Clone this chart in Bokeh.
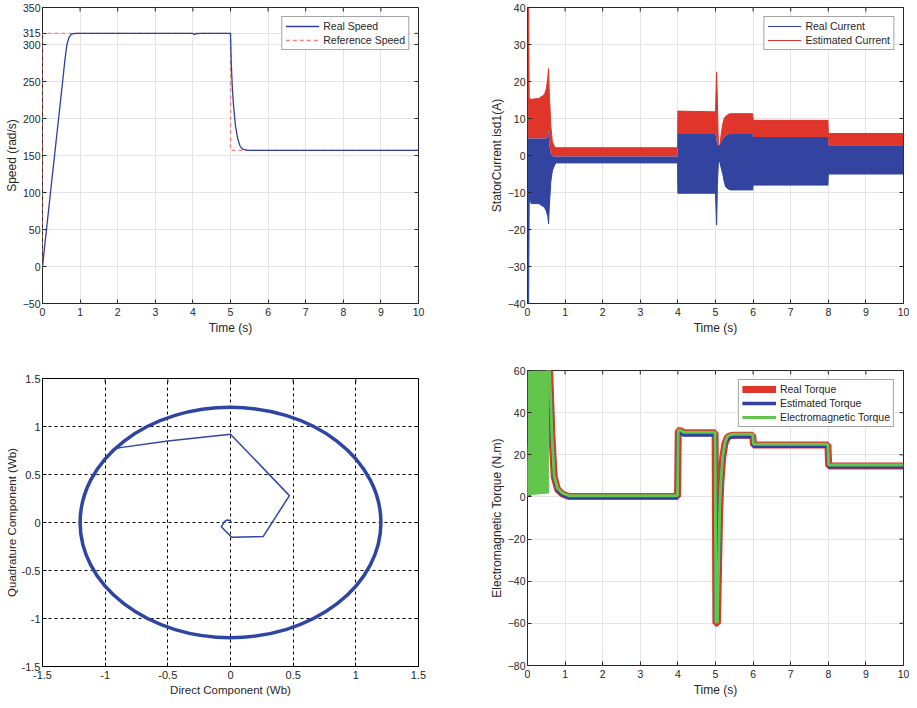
import math
from bokeh.plotting import figure
from bokeh.models import FixedTicker, Legend, LegendItem, CustomJSTickFormatter, Range1d
from bokeh.layouts import column, row
from bokeh.embed import file_html
from bokeh.resources import INLINE

# ---------------- data ----------------
# Speed
t_spd = [0, 0.2, 0.4, 0.55, 0.6, 0.65, 0.7, 0.75, 0.8, 0.9, 4.0, 4.03, 4.1, 4.2,
         5.0, 5.02, 5.05, 5.08, 5.13, 5.19, 5.26, 5.33, 5.45, 10]
real_spd = [0, 94, 187, 257, 281, 300, 309, 313, 314.5, 315, 315, 313.5, 314.6, 315,
            315, 275, 240, 218, 191, 173, 162, 158.5, 157, 157]
t_ref = [0, 0, 5, 5, 10]
ref_spd = [0, 315, 315, 157, 157]
spd_yticks = [-50, 0, 50, 100, 150, 200, 250, 300, 315, 350]

# Stator current envelopes
t_cur = [0, 0.03, 0.045, 0.1, 0.3, 0.45, 0.5, 0.54, 0.56, 0.58, 0.62, 0.66, 0.7, 0.75, 1.0,
         3.99, 4.0, 4.99, 5.0, 5.03, 5.05, 5.08, 5.12, 5.16, 5.2, 5.23, 5.27, 5.36, 5.4,
         5.99, 6.0, 7.99, 8.0, 10.0]
real_hi = [4.6, 4.6, 4.6, 4.6, 4.6, 4.6, 4.6, 5.0, 7.0, 3.0, 0.5, 0.0, -0.3, -0.3, -0.3,
           -0.3, 5.8, 5.8, 5.8, 4.0, 3.0, 2.6, 3.0, 4.0, 4.6, 5.0, 5.4, 5.8, 5.8,
           5.8, 5.0, 5.0, 2.8, 2.8]
real_lo = [-40, -40, -12, -13, -13, -14, -15, -16.5, -18.5, -14, -7.1, -4.2, -3.1, -2.0, -2.0,
           -2.0, -10.2, -10.2, -10.2, -18.8, -8, -1.2, -2, -3.8, -5.3, -7, -8.5, -9.2, -9.3,
           -9.3, -8.0, -8.0, -5.0, -5.0]
est_hi = [40, 40, 15.4, 15.2, 15.4, 16.5, 18, 21, 23.5, 17, 8, 3.8, 2.8, 2.1, 2.1,
          2.1, 12, 11.8, 11.8, 22.6, 15, 1, 3, 6.5, 8.8, 10, 10.6, 11.2, 11.3,
          11.3, 9.5, 9.5, 5.95, 5.95]
cur_yticks = [-40, -30, -20, -10, 0, 10, 20, 30, 40]

# Flux trajectory
flux_r = [1.2]
flux_x = [0.006, 0.0, -0.026, -0.047, -0.073, 0.009, 0.26, 0.47, 0.0, -0.5, -0.88, -0.94]
flux_y = [0.0, 0.019, 0.026, 0.012, -0.044, -0.154, -0.147, 0.28, 0.92, 0.85, 0.78, 0.76]
flux_ticks = [-1.5, -1, -0.5, 0, 0.5, 1, 1.5]

# Torque
t_tq = [0, 0.01, 0.57, 0.59, 0.65, 0.71, 0.8, 0.93, 1.1, 3.99, 4.01, 4.06, 4.15, 4.99,
        5.01, 5.05, 5.08, 5.11, 5.14, 5.19, 5.25, 5.32, 5.4, 5.5, 5.99, 6.01, 7.99, 8.01, 10]
real_tq = [0, 18, 60, 60, 29.4, 9.5, 3.6, 1.4, 0.2, 0.2, 31.3, 31.6, 30.5, 30.5,
           -60, -60, -35, -8, 6, 18.4, 25.3, 28.4, 29.1, 29.3, 29.3, 24.7, 24.7, 14.7, 14.7]
est_tq = [0, 15, 60, 60, 28.8, 9.0, 3.0, 1.0, -0.2, -0.2, 30.5, 30.5, 29.4, 29.4,
          -59, -59, -34, -8, 5.5, 17.8, 24.6, 27.7, 28.4, 28.6, 28.6, 24.0, 24.0, 14.3, 14.3]
em_tq = [0, 15, 60, 60, 29.8, 9.8, 4.0, 1.8, 0.6, 0.6, 31.5, 31.8, 30.7, 30.7,
         -59.5, -59.5, -34.5, -7.5, 6.3, 18.8, 25.5, 28.8, 29.5, 29.7, 29.7, 25.0, 25.0, 15.1, 15.1]
t_osc = [0.0, 0.57]
osc_lo = [0.8, 1.6]
osc_hi = [60, 60]
tq_yticks = [-80, -60, -40, -20, 0, 20, 40, 60]

time_ticks = list(range(0, 11))

FONT = "Liberation Sans"
TXT = "#262626"
BLUE = "#2f3f9f"
RED = "#e0352a"
GREEN = "#62c54c"


def make_fig(w, h, bl, br, bt, bb, xr, yr):
    p = figure(width=w, height=h, x_range=Range1d(*xr), y_range=Range1d(*yr),
               output_backend="svg", toolbar_location=None,
               min_border_left=bl, min_border_right=br,
               min_border_top=bt, min_border_bottom=bb)
    p.background_fill_color = "white"
    p.border_fill_color = "white"
    return p


def style(p, xt, yt, xr, yr, xlabel, ylabel, grid_color, grid_dash, frame_color,
          tick_size="10.5px", label_size="12px", fmt=None):
    p.outline_line_color = frame_color
    p.outline_line_width = 1
    p.outline_line_alpha = 1
    for ax, ticks in ((p.xaxis[0], xt), (p.yaxis[0], yt)):
        ax.ticker = FixedTicker(ticks=ticks)
        ax.axis_line_color = None
        ax.major_tick_in = 4
        ax.major_tick_out = 0
        ax.major_tick_line_color = frame_color
        ax.minor_tick_line_color = None
        ax.major_label_text_font = FONT
        ax.major_label_text_font_size = tick_size
        ax.major_label_text_color = TXT
        ax.axis_label_text_font = FONT
        ax.axis_label_text_font_size = label_size
        ax.axis_label_text_font_style = "normal"
        ax.axis_label_text_color = TXT
        if fmt is not None:
            ax.formatter = fmt
    p.xaxis[0].axis_label = xlabel
    p.yaxis[0].axis_label = ylabel
    p.xaxis[0].major_label_standoff = 4
    p.xaxis[0].axis_label_standoff = 2
    p.yaxis[0].major_label_standoff = 2
    p.yaxis[0].axis_label_standoff = 1
    p.xgrid.ticker = FixedTicker(ticks=xt)
    p.ygrid.ticker = FixedTicker(ticks=yt)
    for g in (p.xgrid[0], p.ygrid[0]):
        g.grid_line_color = grid_color
        g.grid_line_width = 1
        g.grid_line_dash = grid_dash
    # mirrored inward ticks on the top and right edges (box on)
    p.scatter(x=xt, y=[yr[1]] * len(xt), marker="dash", angle=math.pi / 2, size=8,
              line_color=frame_color, line_width=1)
    p.scatter(x=[xr[1]] * len(yt), y=yt, marker="dash", size=8,
              line_color=frame_color, line_width=1)


def add_legend(p, items, glyph_h=12):
    lg = Legend(items=[LegendItem(label=l, renderers=[r]) for l, r in items],
                location="top_right", margin=9, padding=3, spacing=2,
                glyph_width=34, glyph_height=glyph_h, label_height=12,
                label_standoff=4, label_text_font=FONT,
                label_text_font_size="10.5px", label_text_color=TXT,
                border_line_color="#4a4a4a", border_line_width=1,
                background_fill_color="white", background_fill_alpha=1)
    p.add_layout(lg)


# ---------------- Speed ----------------
xr_t, yr_spd = (0, 10), (-50, 350)
p1 = make_fig(436, 341, 42, 18, 7, 38, xr_t, yr_spd)
style(p1, time_ticks, spd_yticks, xr_t, yr_spd, "Time (s)", "Speed (rad/s)",
      "#e4e4e4", "solid", TXT)
r_ref = p1.line(t_ref, ref_spd, line_color="#f5857b", line_width=1.3, line_dash="4 3")
r_real = p1.line(t_spd, real_spd, line_color=BLUE, line_width=1.3)
add_legend(p1, [("Real Speed", r_real), ("Reference Speed", r_ref)])

# ---------------- Current ----------------
yr_cur = (-40, 40)
p2 = make_fig(473, 341, 91, 6, 7, 38, xr_t, yr_cur)
style(p2, time_ticks, cur_yticks, xr_t, yr_cur, "Time (s)", "StatorCurrent isd1(A)",
      "#e4e4e4", "solid", TXT)
p2.varea(x=t_cur, y1=real_hi, y2=est_hi, fill_color=RED)
r_est_c = p2.line(t_cur, est_hi, line_color=RED, line_width=1)
p2.varea(x=t_cur, y1=real_lo, y2=real_hi, fill_color="#3244a0")
r_real_c = p2.line(t_cur, real_lo, line_color="#3244a0", line_width=1)
add_legend(p2, [("Real Current", r_real_c), ("Estimated Current", r_est_c)])

# ---------------- Flux ----------------
xr_f = yr_f = (-1.5, 1.5)
p3 = make_fig(436, 359, 42, 18, 37, 34, xr_f, yr_f)
style(p3, flux_ticks, flux_ticks, xr_f, yr_f, "Direct Component (Wb)",
      "Quadrature Component (Wb)", "#000000", "3 3", "#000000",
      tick_size="11px", label_size="11.5px",
      fmt=CustomJSTickFormatter(code="return String(tick);"))
p3.ellipse(x=[0], y=[0], width=[2 * flux_r[0]], height=[2 * flux_r[0]],
           fill_color=None, line_color="#2f45a3", line_width=3.5)
p3.line(flux_x, flux_y, line_color="#2f45a3", line_width=1.5)

# ---------------- Torque ----------------
yr_tq = (-80, 60)
p4 = make_fig(473, 359, 91, 6, 29, 35, xr_t, yr_tq)
style(p4, time_ticks, tq_yticks, xr_t, yr_tq, "Time (s)", "Electromagnetic Torque (N.m)",
      "#e4e4e4", "solid", TXT)
r_rt = p4.line(t_tq, real_tq, line_color=RED, line_width=7)
r_et = p4.line(t_tq, est_tq, line_color="#2f40a0", line_width=3.5)
r_gt = p4.line(t_tq, em_tq, line_color=GREEN, line_width=3)
p4.varea(x=t_osc, y1=osc_lo, y2=osc_hi, fill_color=GREEN)
add_legend(p4, [("Real Torque", r_rt), ("Estimated Torque", r_et),
                ("Electromagnetic Torque", r_gt)])

layout = row(column(p1, p3), column(p2, p4))
open("out.html", "w").write(file_html(layout, INLINE))
